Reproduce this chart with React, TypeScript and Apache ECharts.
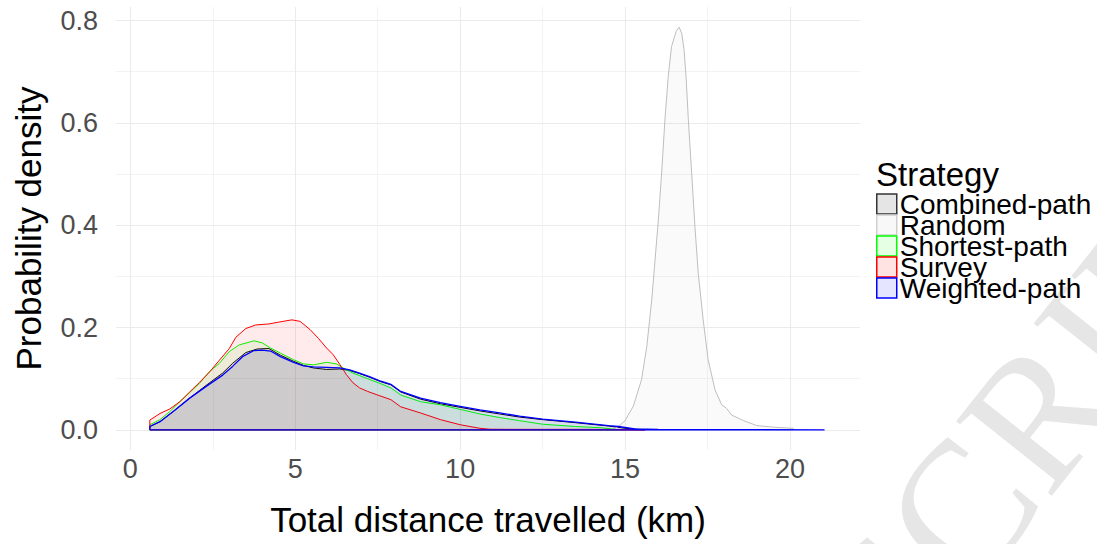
import React, { useEffect, useRef } from "react";
import * as echarts from "echarts";

// ---- Data ----
const strategies = ["Combined-path", "Random", "Shortest-path", "Survey", "Weighted-path"];
const lineColors = ["#000000", "#BEBEBE", "#00FF00", "#FF0000", "#0000FF"];
const fillColors = [
  "rgba(0,0,0,0.1)",
  "rgba(190,190,190,0.1)",
  "rgba(0,255,0,0.1)",
  "rgba(255,0,0,0.11)",
  "rgba(0,0,255,0.1)",
];
const legendBorders = ["#333333", "#CFCFCF", "#00FF00", "#FF0000", "#0000FF"];

const xCombined = [0.59, 0.9, 1.3, 1.8, 2.3, 2.8, 3.1, 3.5, 3.85, 4.2, 4.55, 4.95, 5.25, 5.55, 5.95, 6.35, 6.65, 6.95, 7.25, 7.6, 7.9, 8.2, 8.8, 9.4, 10.0, 10.6, 11.2, 11.8, 12.5, 13.5, 14.5, 15.0, 15.6];
const yCombined = [0.0065, 0.016, 0.036, 0.062, 0.087, 0.111, 0.13, 0.151, 0.158, 0.159, 0.146, 0.134, 0.126, 0.121, 0.118, 0.119, 0.116, 0.11, 0.103, 0.094, 0.088, 0.074, 0.06, 0.051, 0.044, 0.037, 0.031, 0.025, 0.02, 0.014, 0.0075, 0.003, 0.0];

const xRandom = [14.6, 14.8, 15.0, 15.25, 15.5, 15.66, 15.81, 15.91, 16.01, 16.11, 16.21, 16.31, 16.41, 16.55, 16.64, 16.72, 16.79, 16.85, 16.92, 17.02, 17.12, 17.22, 17.37, 17.52, 17.73, 17.93, 18.08, 18.23, 18.59, 18.99, 19.49, 20.1];
const yRandom = [0.001, 0.0065, 0.018, 0.046, 0.098, 0.163, 0.254, 0.332, 0.41, 0.502, 0.606, 0.691, 0.749, 0.779, 0.787, 0.775, 0.743, 0.691, 0.606, 0.502, 0.397, 0.306, 0.215, 0.137, 0.078, 0.049, 0.042, 0.029, 0.018, 0.0085, 0.0052, 0.003];

const xShortest = [0.59, 0.9, 1.2, 1.5, 1.8, 2.1, 2.4, 2.7, 3.0, 3.3, 3.75, 4.0, 4.25, 4.55, 4.95, 5.25, 5.55, 5.95, 6.25, 6.45, 6.75, 7.15, 7.6, 7.9, 8.2, 8.8, 9.4, 10.0, 10.6, 11.2, 11.8, 12.5, 13.5, 14.3, 14.8];
const yShortest = [0.01, 0.02, 0.036, 0.055, 0.073, 0.091, 0.114, 0.13, 0.153, 0.166, 0.174, 0.17, 0.16, 0.15, 0.137, 0.129, 0.127, 0.132, 0.129, 0.121, 0.111, 0.101, 0.09, 0.082, 0.068, 0.055, 0.049, 0.04, 0.031, 0.024, 0.018, 0.011, 0.0065, 0.004, 0.0];

const xSurvey = [0.59, 0.9, 1.2, 1.5, 1.8, 2.1, 2.4, 2.7, 3.0, 3.2, 3.5, 3.8, 4.2, 4.45, 4.9, 5.15, 5.45, 5.7, 5.95, 6.15, 6.35, 6.55, 6.75, 6.95, 7.2, 7.5, 7.9, 8.2, 8.8, 9.4, 10.0, 10.6, 10.9, 11.5, 12.5, 13.5, 14.5, 15.6];
const ySurvey = [0.019, 0.032, 0.041, 0.055, 0.074, 0.093, 0.113, 0.136, 0.159, 0.181, 0.198, 0.205, 0.207, 0.21, 0.215, 0.212, 0.196, 0.179, 0.16, 0.147, 0.128, 0.108, 0.092, 0.082, 0.075, 0.068, 0.059, 0.045, 0.033, 0.02, 0.01, 0.003, 0.0012, 0.001, 0.001, 0.001, 0.0008, 0.0];

const xWeighted = [0.59, 0.9, 1.3, 1.8, 2.3, 2.8, 3.1, 3.4, 3.75, 4.0, 4.25, 4.55, 4.95, 5.25, 5.55, 5.95, 6.35, 6.65, 6.95, 7.25, 7.6, 7.9, 8.2, 8.8, 9.4, 10.0, 10.6, 11.2, 11.8, 12.5, 13.5, 14.5, 14.8, 15.3, 16.0, 18.0, 21.05];
const yWeighted = [0.0065, 0.016, 0.036, 0.062, 0.085, 0.107, 0.124, 0.143, 0.155, 0.156, 0.154, 0.143, 0.132, 0.125, 0.123, 0.122, 0.121, 0.117, 0.111, 0.104, 0.095, 0.089, 0.075, 0.062, 0.053, 0.046, 0.039, 0.033, 0.027, 0.021, 0.015, 0.0084, 0.0065, 0.002, 0.0008, 0.0003, 0.0];

const seriesX = [xCombined, xRandom, xShortest, xSurvey, xWeighted];
const seriesY = [yCombined, yRandom, yShortest, ySurvey, yWeighted];

const xTickLabels = [0, 5, 10, 15, 20];
const yTickLabels = [0.0, 0.2, 0.4, 0.6, 0.8];

const FONT = "'Liberation Sans', Arial, sans-serif";

// closed polygon outline like ggplot's geom_density
function closedOutline(xs: number[], ys: number[]): number[][] {
  const pts: number[][] = [[xs[0], 0]];
  xs.forEach((x, i) => pts.push([x, ys[i]]));
  pts.push([xs[xs.length - 1], 0]);
  pts.push([xs[0], 0]);
  return pts;
}

function isTick(v: number, list: number[]) {
  return list.some((t) => Math.abs(t - v) < 1e-6);
}

export default function App() {
  const ref = useRef<HTMLDivElement>(null);

  useEffect(() => {
    if (!ref.current) return;
    const chart = echarts.init(ref.current, undefined, { renderer: "svg" });

    const series = strategies.map((name, i) => ({
      name,
      type: "line",
      data: closedOutline(seriesX[i], seriesY[i]),
      showSymbol: false,
      symbol: "none",
      smooth: false,
      color: lineColors[i],
      lineStyle: { color: lineColors[i], width: i === 4 ? 1.3 : 1 },
      areaStyle: { color: fillColors[i], origin: "auto" },
      z: 2 + i,
    }));

    const option: any = {
      animation: false,
      backgroundColor: "#FFFFFF",
      textStyle: { fontFamily: FONT },
      title: {
        text: "Strategy",
        left: 876,
        top: 158,
        padding: 0,
        textStyle: { fontFamily: FONT, fontSize: 33, fontWeight: "normal", color: "#000000" },
      },
      legend: {
        orient: "vertical",
        left: 876,
        top: 190,
        padding: 0,
        itemGap: -7,
        itemWidth: 20,
        itemHeight: 20,
        icon: "rect",
        selectedMode: false,
        textStyle: { fontFamily: FONT, fontSize: 28, color: "#000000", lineHeight: 20, padding: [0, 0, 0, -2] },
        data: strategies.map((name, i) => ({
          name,
          icon: "rect",
          itemStyle: {
            color: fillColors[i],
            borderColor: legendBorders[i],
            borderWidth: 1.5,
          },
        })),
      },
      grid: { left: 116, right: 237, top: 7, bottom: 94, containLabel: false },
      xAxis: {
        type: "value",
        min: -0.435,
        max: 22.125,
        axisLine: { show: false },
        axisTick: { show: false },
        axisLabel: {
          fontFamily: FONT,
          fontSize: 27,
          color: "#4D4D4D",
          margin: 5,
          formatter: (v: number) => (isTick(v, xTickLabels) ? String(Math.round(v)) : ""),
        },
        splitLine: { show: true, showMinLine: false, showMaxLine: false, lineStyle: { color: "#EBEBEB", width: 1.1 } },
        minorTick: { show: false, splitNumber: 2 },
        minorSplitLine: { show: true, lineStyle: { color: "#EBEBEB", width: 0.6 } },
        name: "Total distance travelled (km)",
        nameLocation: "middle",
        nameGap: 52,
        nameTextStyle: { fontFamily: FONT, fontSize: 35, color: "#000000" },
      },
      yAxis: {
        type: "value",
        min: -0.0394,
        max: 0.8265,
        axisLine: { show: false },
        axisTick: { show: false },
        axisLabel: {
          fontFamily: FONT,
          fontSize: 27,
          color: "#4D4D4D",
          margin: 18,
          formatter: (v: number) => (isTick(v, yTickLabels) ? v.toFixed(1) : ""),
        },
        splitLine: { show: true, showMinLine: false, showMaxLine: false, lineStyle: { color: "#EBEBEB", width: 1.1 } },
        minorTick: { show: false, splitNumber: 2 },
        minorSplitLine: { show: true, lineStyle: { color: "#EBEBEB", width: 0.6 } },
        name: "Probability density",
        nameLocation: "middle",
        nameRotate: 90,
        nameGap: 70,
        nameTextStyle: { fontFamily: FONT, fontSize: 35, color: "#000000" },
      },
      graphic: [
        {
          type: "text",
          x: 858,
          y: 639,
          rotation: 0.9,
          z: -10,
          silent: true,
          style: {
            text: "SCRIPT",
            font: "185px 'Liberation Serif', 'Times New Roman', serif",
            fill: "#E6E6E6",
            textAlign: "left",
            textVerticalAlign: "middle",
          },
        },
      ],
      series,
    };

    chart.setOption(option);
    return () => chart.dispose();
  }, []);

  return (
    <div
      ref={ref}
      style={{ position: "fixed", left: 0, top: 0, width: 1097, height: 544, background: "#fff" }}
    />
  );
}
